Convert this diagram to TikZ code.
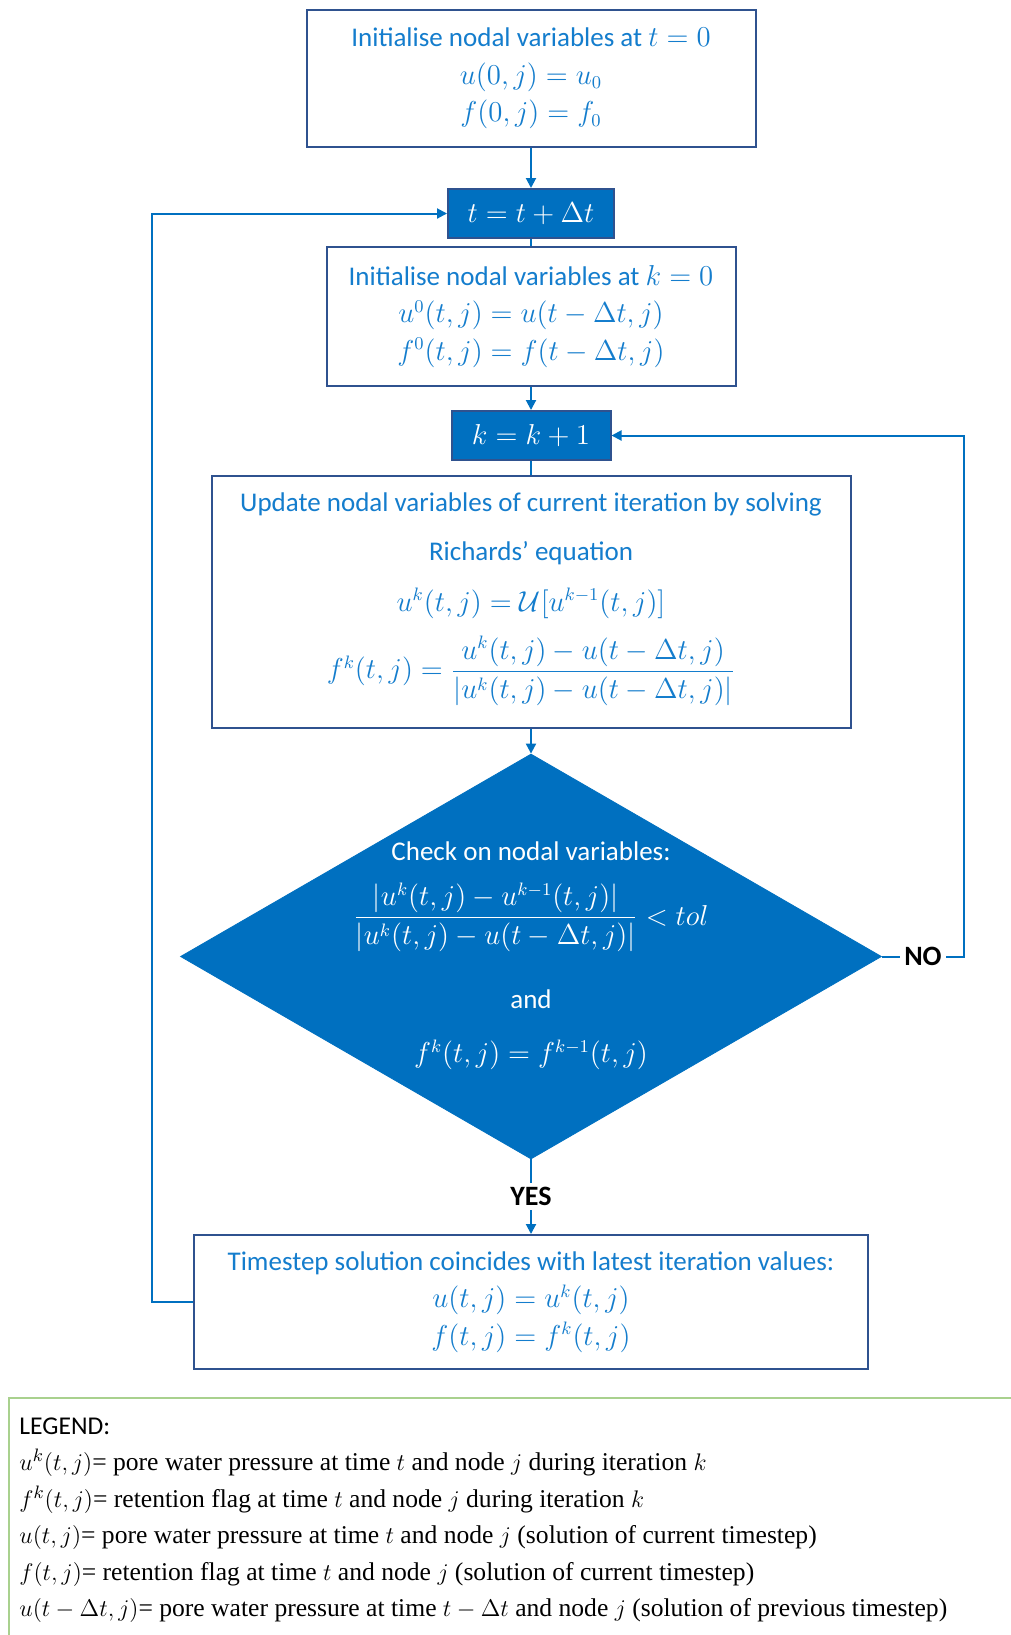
\documentclass[tikz,border=0pt]{standalone}
\usepackage{fontspec}
\usepackage{amsmath}
\setmainfont{Carlito}
\newfontfamily\legendfont{Liberation Serif}
\usetikzlibrary{arrows.meta,shapes.geometric}
\definecolor{boxline}{RGB}{47,82,143}
\definecolor{fillblue}{RGB}{0,112,192}
\definecolor{txtblue}{RGB}{20,125,205}
\definecolor{legendgreen}{RGB}{169,209,142}
\begin{document}
\begin{tikzpicture}[x=0.5pt,y=-0.5pt,
  every node/.style={font=\fontsize{13.5}{18.75}\selectfont},
  wbox/.style={draw=boxline,line width=1pt,fill=white,text=txtblue,align=center,inner sep=0pt},
  bbox/.style={draw=boxline,line width=1pt,fill=fillblue,text=white,align=center,inner sep=0pt},
  btxt/.style={text=txtblue,inner sep=0pt},
  wtxt/.style={text=white,inner sep=0pt},
  conn/.style={draw=fillblue,line width=1pt},
  arr/.style={conn,-{Triangle[length=5pt,width=5pt]}},
  lbl/.style={fill=white,font=\bfseries\fontsize{14}{16}\selectfont,text=black,inner sep=2pt}]
\useasboundingbox (0,0) rectangle (1011,1635);

\node[wbox,minimum width=224.5pt,minimum height=68.5pt] (init) at (531,78.5)
  {Initialise nodal variables at $t=0$\\ $u(0,j)=u_0$\\ $f(0,j)=f_0$};
\node[bbox,minimum width=83pt,minimum height=24.5pt] (tstep) at (531,213.5) {$t=t+\Delta t$};
\node[wbox,minimum width=204.5pt,minimum height=69.5pt] (kinit) at (531,316.5)
  {Initialise nodal variables at $k=0$\\ $u^0(t,j)=u(t-\Delta t,j)$\\ $f^0(t,j)=f(t-\Delta t,j)$};
\node[bbox,minimum width=79.5pt,minimum height=24.5pt] (kstep) at (531,435.5) {$k=k+1$};

\node[wbox,minimum width=319.5pt,minimum height=126pt] (update) at (531,602) {};
\node[btxt] (upd1) at (531,504.5) {Update nodal variables of current iteration by solving};
\node[btxt] (upd2) at (531,553.5) {Richards' equation};
\node[btxt] (upd3) at (531,603.5) {$u^k(t,j)=\mathcal{U}[u^{k-1}(t,j)]$};
\node[btxt] (upd4) at (531,671) {$f^k(t,j)=\dfrac{u^k(t,j)-u(t-\Delta t,j)}{|u^k(t,j)-u(t-\Delta t,j)|}$};

\node[shape=diamond,draw=fillblue,fill=fillblue,minimum width=350.5pt,minimum height=202.5pt,inner sep=0pt] (check) at (531,956.5) {};
\node[wtxt] (chk1) at (531,851) {Check on nodal variables:};
\node[wtxt] (chk2) at (531,925) {\smash{$\dfrac{|u^k(t,j)-u^{k-1}(t,j)|}{|u^k(t,j)-u(t-\Delta t,j)|}<tol$}};
\node[wtxt] (chk3) at (531,999.5) {and};
\node[wtxt] (chk4) at (531,1055) {$f^k(t,j)=f^{k-1}(t,j)$};

\node[wbox,minimum width=337pt,minimum height=67pt] (final) at (531,1302)
  {Timestep solution coincides with latest iteration values:\\ $u(t,j)=u^k(t,j)$\\ $f(t,j)=f^k(t,j)$};

\coordinate (noR) at (964,956.5);
\coordinate (lf) at (152,1302);
\draw[arr] (init) -- (tstep);
\draw[conn] (tstep) -- (kinit);
\draw[arr] (kinit) -- (kstep);
\draw[conn] (kstep) -- (update);
\draw[arr] (update) -- (check);
\draw[arr] (check) -- node[lbl]{YES} (final);
\draw[arr] (check.east) -- node[lbl]{NO} (noR) |- (kstep.east);
\draw[arr] (final.west) -- (lf) |- (tstep.west);

\draw[legendgreen,line width=1pt] (9,1398) rectangle (1030,1660);
\node[anchor=north west,align=left,inner sep=0pt,font=\legendfont\fontsize{12.8}{18.25}\selectfont] (legend) at (19,1417)
  {{\normalfont LEGEND:}\\
   $u^k(t,j)$= pore water pressure at time $t$ and node $j$ during iteration $k$\\
   $f^k(t,j)$= retention flag at time $t$ and node $j$ during iteration $k$\\
   $u(t,j)$= pore water pressure at time $t$ and node $j$ (solution of current timestep)\\
   $f(t,j)$= retention flag at time $t$ and node $j$ (solution of current timestep)\\
   $u(t-\Delta t,j)$= pore water pressure at time $t-\Delta t$ and node $j$ (solution of previous timestep)};
\end{tikzpicture}
\end{document}
